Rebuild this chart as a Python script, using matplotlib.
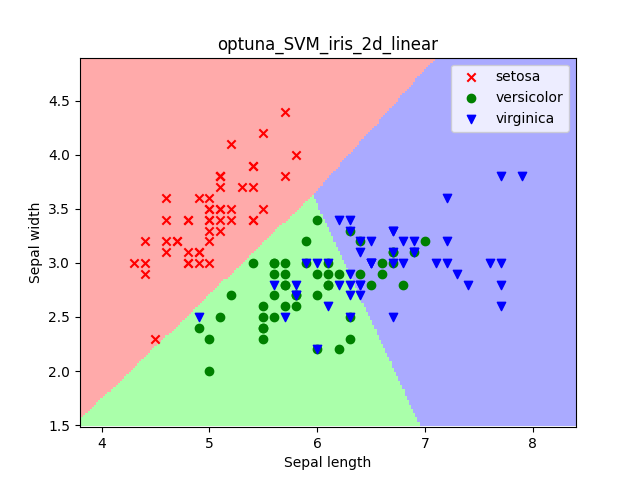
import numpy as np
import matplotlib
matplotlib.use("Agg")
import matplotlib.pyplot as plt
from matplotlib.colors import ListedColormap

# iris sepal length / width
setosa_x = [5.1,4.9,4.7,4.6,5.0,5.4,4.6,5.0,4.4,4.9,5.4,4.8,4.8,4.3,5.8,5.7,5.4,5.1,5.7,5.1,5.4,5.1,4.6,5.1,4.8,
            5.0,5.0,5.2,5.2,4.7,4.8,5.4,5.2,5.5,4.9,5.0,5.5,4.9,4.4,5.1,5.0,4.5,4.4,5.0,5.1,4.8,5.1,4.6,5.3,5.0]
setosa_y = [3.5,3.0,3.2,3.1,3.6,3.9,3.4,3.4,2.9,3.1,3.7,3.4,3.0,3.0,4.0,4.4,3.9,3.5,3.8,3.8,3.4,3.7,3.6,3.3,3.4,
            3.0,3.4,3.5,3.4,3.2,3.1,3.4,4.1,4.2,3.1,3.2,3.5,3.6,3.0,3.4,3.5,2.3,3.2,3.5,3.8,3.0,3.8,3.2,3.7,3.3]
versi_x = [7.0,6.4,6.9,5.5,6.5,5.7,6.3,4.9,6.6,5.2,5.0,5.9,6.0,6.1,5.6,6.7,5.6,5.8,6.2,5.6,5.9,6.1,6.3,6.1,6.4,
           6.6,6.8,6.7,6.0,5.7,5.5,5.5,5.8,6.0,5.4,6.0,6.7,6.3,5.6,5.5,5.5,6.1,5.8,5.0,5.6,5.7,5.7,6.2,5.1,5.7]
versi_y = [3.2,3.2,3.1,2.3,2.8,2.8,3.3,2.4,2.9,2.7,2.0,3.0,2.2,2.9,2.9,3.1,3.0,2.7,2.2,2.5,3.2,2.8,2.5,2.8,2.9,
           3.0,2.8,3.0,2.9,2.6,2.4,2.4,2.7,2.7,3.0,3.4,3.1,2.3,3.0,2.5,2.6,3.0,2.6,2.3,2.7,3.0,2.9,2.9,2.5,2.8]
virg_x = [6.3,5.8,7.1,6.3,6.5,7.6,4.9,7.3,6.7,7.2,6.5,6.4,6.8,5.7,5.8,6.4,6.5,7.7,7.7,6.0,6.9,5.6,7.7,6.3,6.7,
          7.2,6.2,6.1,6.4,7.2,7.4,7.9,6.4,6.3,6.1,7.7,6.3,6.4,6.0,6.9,6.7,6.9,5.8,6.8,6.7,6.7,6.3,6.5,6.2,5.9]
virg_y = [3.3,2.7,3.0,2.9,3.0,3.0,2.5,2.9,2.5,3.6,3.2,2.7,3.0,2.5,2.8,3.2,3.0,3.8,2.6,2.2,3.2,2.8,2.8,2.7,3.3,
          3.2,2.8,3.0,2.8,3.0,2.8,3.8,2.8,2.8,2.6,3.0,3.4,3.1,3.0,3.1,3.1,3.1,2.7,3.2,3.3,3.0,2.5,3.0,3.4,3.0]

# approximate linear decision scores (green score = 0)
def regions(xx, yy):
    s_red = -0.963 * (xx - 3.8) + (yy - 1.55)
    s_green = np.zeros_like(xx)
    s_blue = 0.1 * ((xx - 5.95) + (yy - 3.65) / 2.15)
    return np.argmax(np.stack([s_red, s_green, s_blue]), axis=0)

xx, yy = np.meshgrid(np.arange(3.8, 8.4, 0.02), np.arange(1.5, 4.9, 0.02))
zz = regions(xx, yy)

fig, ax = plt.subplots(figsize=(6.4, 4.8))
ax.pcolormesh(xx, yy, zz, cmap=ListedColormap(["#FFAAAA", "#AAFFAA", "#AAAAFF"]), shading="auto")
ax.scatter(setosa_x, setosa_y, c="red", marker="x", label="setosa")
ax.scatter(versi_x, versi_y, c="green", marker="o", label="versicolor")
ax.scatter(virg_x, virg_y, c="blue", marker="v", label="virginica")
ax.set_xlim(3.8, 8.4)
ax.set_ylim(1.48, 4.9)
ax.set_xlabel("Sepal length")
ax.set_ylabel("Sepal width")
ax.set_title("optuna_SVM_iris_2d_linear")
ax.legend(loc="upper right")
fig.savefig("out.png", dpi=100)
